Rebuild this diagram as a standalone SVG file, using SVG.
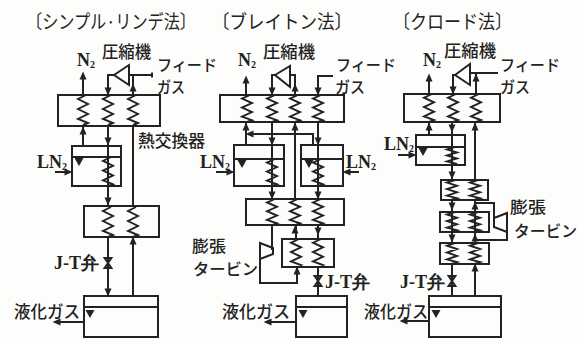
<svg xmlns="http://www.w3.org/2000/svg" width="577" height="338" viewBox="0 0 577 338">
<style>
.b{fill:none;stroke:#222;stroke-width:2}
.c{fill:none;stroke:#222;stroke-width:1.9;vector-effect:non-scaling-stroke;stroke-linejoin:miter}
.f{fill:#222}
text{font-family:"Noto Sans CJK JP","Noto Sans",sans-serif;fill:#222;font-size:17px;font-weight:500}
.l{font-family:"Liberation Serif",serif;font-weight:bold;font-size:18px}
.s{font-size:10px}
.t{font-size:19px;font-weight:400}
.n{font-size:16px}
</style>
<defs>
<path id="coil" class="c" d="M3 0L-5 4L5 9L-5 14L5 19L-5 24L5 28L0 30"/>
<path id="up" class="f" d="M0 -4.5L3.5 3.5L-3.5 3.5Z"/>
<path id="down" class="f" d="M0 4.5L3.5 -3.5L-3.5 -3.5Z"/>
<path id="left" class="f" d="M-4.5 0L3.5 -3.5L3.5 3.5Z"/>
<path id="right" class="f" d="M4.5 0L-3.5 -3.5L-3.5 3.5Z"/>
<path id="lvl" class="f" d="M-4.5 0L4.5 0L0 8Z"/>
<path id="valve" class="c" d="M-3.5 -5L3.5 -5L-3.5 5L3.5 5Z"/>
</defs>
<rect width="577" height="338" fill="#fdfdfb"/>

<g id="titles">
<text class="t" x="26" y="29" textLength="170" lengthAdjust="spacingAndGlyphs">〔シンプル·リンデ法〕</text>
<text class="t" x="212" y="29" textLength="140" lengthAdjust="spacingAndGlyphs">〔ブレイトン法〕</text>
<text class="t" x="393" y="29" textLength="119" lengthAdjust="spacingAndGlyphs">〔クロード法〕</text>
</g>

<g id="connectors" class="b">
<path d="M83 95V76M83 126V146M108 95V75H114M129 75H152M152 72.5V77.5M133 75V95M108 126V206M133 126V206M108 237V296M133 237V296M84 322H57M55 172H68"/>
<path d="M246 95V81M246 122V145M272 95V75H275M290 75H295V95M318 95V76H333M272 122V199M295 122V199M318 122V199M250 134H313V145M272 225V250M260 259V283H297V268M296 225V239M318 225V239M318 267V296M296 322H268M216 172H230M359 172H347"/>
<path d="M429 94V78M429 122V135M453 94V75H455M470 73H498M476 73V94M452 122V180M475 122V180M452 199V243M475 199V243M475 203H494V218M507 232V240H475M452 264V296M475 264V296M429 321H404"/>
<path d="M398 155H412"/>
</g>

<g id="arrows">
<use href="#up" x="83" y="76"/><use href="#down" x="108" y="91"/><use href="#up" x="133" y="88"/><use href="#up" x="83" y="131"/><use href="#down" x="108" y="141"/><use href="#down" x="108" y="201"/><use href="#up" x="133" y="241"/><use href="#down" x="108" y="292"/><use href="#left" x="57" y="322"/><use href="#right" x="68" y="172"/>
<use href="#up" x="246" y="80"/><use href="#down" x="272" y="91"/><use href="#up" x="295" y="88"/><use href="#down" x="318" y="91"/><use href="#up" x="246" y="127"/><use href="#up" x="295" y="127"/><use href="#left" x="250" y="134"/><use href="#down" x="272" y="141"/><use href="#down" x="318" y="141"/><use href="#down" x="272" y="195"/><use href="#down" x="318" y="195"/><use href="#up" x="295" y="230"/><use href="#down" x="318" y="231"/><use href="#up" x="297" y="271"/><use href="#left" x="268" y="322"/><use href="#right" x="230" y="172"/><use href="#left" x="347" y="172"/>
<use href="#up" x="429" y="78"/><use href="#down" x="453" y="90"/><use href="#up" x="476" y="78"/><use href="#up" x="429" y="127"/><use href="#down" x="452" y="128"/><use href="#up" x="475" y="127"/><use href="#down" x="452" y="175"/><use href="#down" x="452" y="206"/><use href="#up" x="475" y="206"/><use href="#down" x="452" y="238"/><use href="#up" x="475" y="238"/><use href="#up" x="475" y="268"/><use href="#left" x="404" y="321"/><use href="#right" x="412" y="155"/>
</g>

<g id="left-exchanger-1"><rect class="b" x="58" y="95" width="102" height="31"/><use href="#coil" transform="translate(83 95)"/><use href="#coil" transform="translate(108 95)"/><use href="#coil" transform="translate(133 95)"/></g>
<g id="left-compressor"><path class="b" d="M114 75L129 65V85Z"/></g>
<g id="left-ln2"><rect class="b" x="72" y="146" width="49" height="40"/><path class="b" d="M72 157H121"/><use href="#lvl" x="79" y="158"/><use href="#coil" transform="translate(108 157) scale(1 .97)"/></g>
<g id="left-exchanger-2"><rect class="b" x="84" y="206" width="75" height="31"/><use href="#coil" transform="translate(108 207)"/><use href="#coil" transform="translate(133 207)"/></g>
<g id="left-valve"><use href="#valve" x="108" y="263"/></g>
<g id="left-tank"><rect class="b" x="84" y="296" width="74" height="41"/><path class="b" d="M84 307H158"/><use href="#lvl" x="90" y="310"/></g>

<g id="mid-exchanger-1"><rect class="b" x="220" y="95" width="124" height="27"/><use href="#coil" transform="translate(247 95) scale(1 .9)"/><use href="#coil" transform="translate(272 95) scale(1 .9)"/><use href="#coil" transform="translate(295 95) scale(1 .9)"/><use href="#coil" transform="translate(318 95) scale(1 .9)"/></g>
<g id="mid-compressor"><path class="b" d="M275 75L290 66V87Z"/></g>
<g id="mid-ln2-left"><rect class="b" x="234" y="145" width="50" height="41"/><path class="b" d="M234 159H284"/><use href="#lvl" x="242" y="160"/><use href="#coil" transform="translate(272 159) scale(1 .9)"/></g>
<g id="mid-ln2-right"><rect class="b" x="301" y="145" width="42" height="41"/><path class="b" d="M301 159H343"/><use href="#lvl" x="309" y="160"/><use href="#coil" transform="translate(318 159) scale(1 .9)"/></g>
<g id="mid-exchanger-2"><rect class="b" x="246" y="199" width="98" height="26"/><use href="#coil" transform="translate(272 199) scale(1 .87)"/><use href="#coil" transform="translate(295 199) scale(1 .87)"/><use href="#coil" transform="translate(318 199) scale(1 .87)"/></g>
<g id="mid-turbine"><path class="b" d="M260 243L273 248V254L260 259Z"/></g>
<g id="mid-exchanger-3"><rect class="b" x="282" y="239" width="52" height="28"/><use href="#coil" transform="translate(296 239) scale(1 .93)"/><use href="#coil" transform="translate(318 239) scale(1 .93)"/></g>
<g id="mid-valve"><use href="#valve" x="318" y="281"/></g>
<g id="mid-tank"><rect class="b" x="296" y="296" width="51" height="41"/><path class="b" d="M296 307H347"/><use href="#lvl" x="303" y="310"/></g>

<g id="right-exchanger-1"><rect class="b" x="404" y="94" width="96" height="28"/><use href="#coil" transform="translate(429 94) scale(1 .93)"/><use href="#coil" transform="translate(453 94) scale(1 .93)"/><use href="#coil" transform="translate(476 94) scale(1 .93)"/></g>
<g id="right-compressor"><path class="b" d="M455 75L470 64V85Z"/></g>
<g id="right-ln2"><rect class="b" x="416" y="135" width="49" height="30"/><path class="b" d="M416 147H465"/><use href="#lvl" x="423" y="148"/><use href="#coil" transform="translate(452 147) scale(1 .6)"/></g>
<g id="right-exchanger-2"><rect class="b" x="441" y="180" width="47" height="20"/><use href="#coil" transform="translate(452 180) scale(1 .65)"/><use href="#coil" transform="translate(475 180) scale(1 .65)"/></g>
<g id="right-exchanger-3"><rect class="b" x="440" y="212" width="49" height="20"/><use href="#coil" transform="translate(452 212) scale(1 .65)"/><use href="#coil" transform="translate(475 212) scale(1 .65)"/></g>
<g id="right-exchanger-4"><rect class="b" x="440" y="243" width="49" height="21"/><use href="#coil" transform="translate(452 243) scale(1 .68)"/><use href="#coil" transform="translate(475 243) scale(1 .68)"/></g>
<g id="right-turbine"><path class="b" d="M494 218L507 213V232L494 227Z"/></g>
<g id="right-valve"><use href="#valve" x="452" y="281"/></g>
<g id="right-tank"><rect class="b" x="429" y="296" width="72" height="41"/><path class="b" d="M429 307H501"/><use href="#lvl" x="436" y="310"/></g>

<g id="labels">
<text x="102" y="58" textLength="49" lengthAdjust="spacingAndGlyphs">圧縮機</text>
<text x="263" y="58" textLength="52" lengthAdjust="spacingAndGlyphs">圧縮機</text>
<text x="444" y="57" textLength="52" lengthAdjust="spacingAndGlyphs">圧縮機</text>
<text class="l" x="77" y="66">N<tspan class="s" dy="2">2</tspan></text>
<text class="l" x="238" y="66">N<tspan class="s" dy="2">2</tspan></text>
<text class="l" x="423" y="66">N<tspan class="s" dy="2">2</tspan></text>
<text class="n" x="157" y="71" textLength="60" lengthAdjust="spacingAndGlyphs">フィード</text>
<text class="n" x="157" y="93" textLength="28" lengthAdjust="spacingAndGlyphs">ガス</text>
<text class="n" x="336" y="71" textLength="60" lengthAdjust="spacingAndGlyphs">フィード</text>
<text class="n" x="335" y="93" textLength="30" lengthAdjust="spacingAndGlyphs">ガス</text>
<text class="n" x="500" y="71" textLength="60" lengthAdjust="spacingAndGlyphs">フィード</text>
<text class="n" x="500" y="93" textLength="30" lengthAdjust="spacingAndGlyphs">ガス</text>
<text x="138" y="147" textLength="67" lengthAdjust="spacingAndGlyphs">熱交換器</text>
<text class="l" x="37" y="168">LN<tspan class="s" dy="2">2</tspan></text>
<text class="l" x="200" y="168">LN<tspan class="s" dy="2">2</tspan></text>
<text class="l" x="346" y="168">LN<tspan class="s" dy="2">2</tspan></text>
<text class="l" x="384" y="150">LN<tspan class="s" dy="2">2</tspan></text>
<text class="l" x="54" y="269">J-T弁</text>
<text class="l" x="325" y="288">J-T弁</text>
<text class="l" x="400" y="288">J-T弁</text>
<text x="14" y="318" textLength="66" lengthAdjust="spacingAndGlyphs">液化ガス</text>
<text x="222" y="318" textLength="68" lengthAdjust="spacingAndGlyphs">液化ガス</text>
<text x="364" y="318" textLength="64" lengthAdjust="spacingAndGlyphs">液化ガス</text>
<text class="n" x="192" y="252" textLength="34" lengthAdjust="spacingAndGlyphs">膨張</text>
<text class="n" x="193" y="275" textLength="65" lengthAdjust="spacingAndGlyphs">タービン</text>
<text class="n" x="510" y="213" textLength="36" lengthAdjust="spacingAndGlyphs">膨張</text>
<text class="n" x="514" y="237" textLength="63" lengthAdjust="spacingAndGlyphs">タービン</text>
</g>
</svg>
